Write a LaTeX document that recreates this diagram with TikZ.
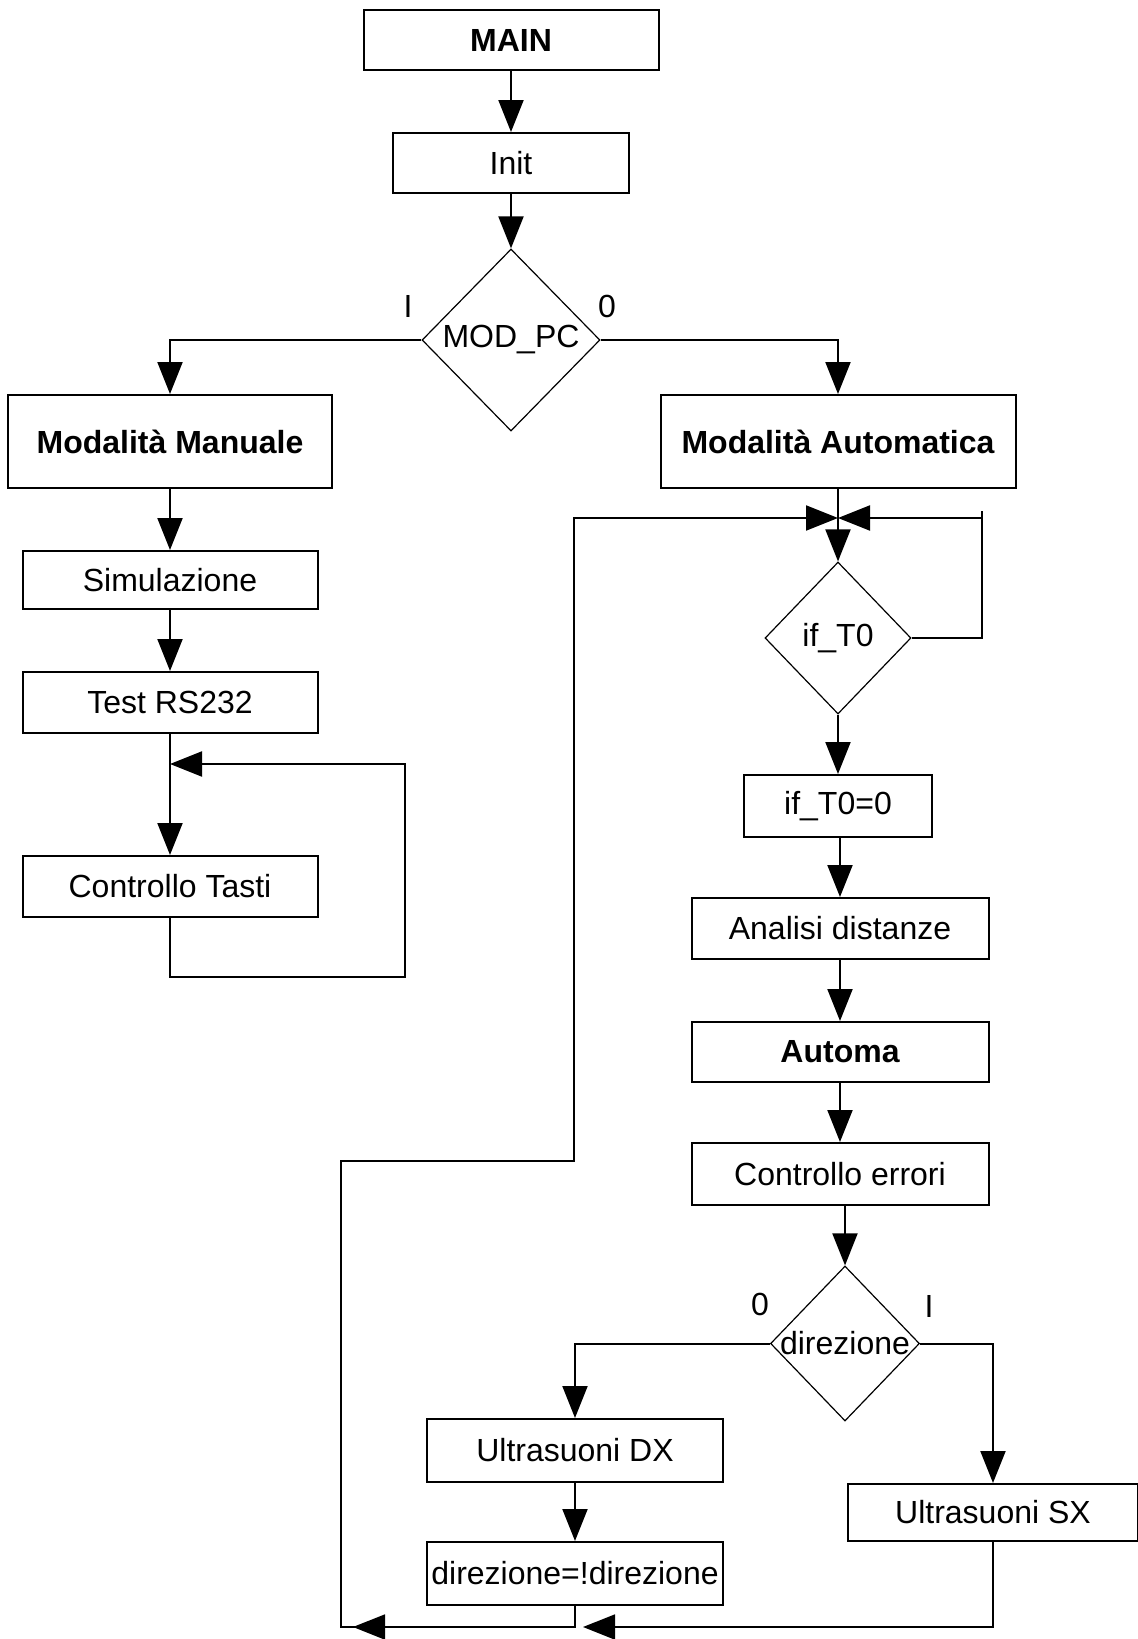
\documentclass[tikz,border=0pt]{standalone}
\usepackage{fontspec}
\setmainfont{Liberation Sans}
\usetikzlibrary{shapes.geometric,arrows.meta}
\newcommand{\myfs}{\fontsize{16}{19}\selectfont}
\begin{document}
\begin{tikzpicture}[x=0.5pt,y=-0.5pt,line width=1pt,
  every node/.style={font=\myfs, inner sep=0pt},
  box/.style 2 args={draw, line width=1pt, minimum width=#1, minimum height=#2},
  dia/.style 2 args={draw, shape=diamond, line width=0.6pt, minimum width=#1, minimum height=#2, inner sep=0pt},
  bold/.style={font=\myfs\bfseries},
  arr/.style={-{Triangle[length=16pt,width=12.5pt]}, line width=1pt}
]
\useasboundingbox (0,0) rectangle (1138,1639);

% nodes
\node[box={147.5pt}{30pt}, bold] (main) at (511,40) {MAIN};
\node[box={118pt}{30pt}] (init) at (511,163) {Init};
\node[dia={89pt}{91pt}] (modpc) at (511,340) {\makebox[0pt]{MOD\_PC}};
\node[box={162pt}{46.5pt}, bold] (man) at (170,441.5) {Modalità Manuale};
\node[box={177.5pt}{46.5pt}, bold] (aut) at (838,441.5) {Modalità Automatica};
\node[box={147.5pt}{29pt}] (sim) at (170,580) {Simulazione};
\node[box={147.5pt}{30.5pt}] (test) at (170,702.5) {Test RS232};
\node[box={147.5pt}{30.5pt}] (ctasti) at (170,886.5) {Controllo Tasti};
\node[dia={73pt}{76pt}] (ift) at (838,638) {\makebox[0pt]{if\_T0}};
\node[box={94pt}{31pt}] (ift0) at (838,806) {if\_T0=0};
\node[box={148.5pt}{30.5pt}] (anal) at (840,928.5) {Analisi distanze};
\node[box={148.5pt}{30pt}, bold] (automa) at (840,1052) {Automa};
\node[box={148.5pt}{31pt}] (cerr) at (840,1174) {Controllo errori};
\node[dia={74.5pt}{77.5pt}] (dir) at (845,1343.5) {\makebox[0pt]{direzione}};
\node[box={148pt}{31.5pt}] (udx) at (575,1450.5) {Ultrasuoni DX};
\node[box={148pt}{31.5pt}] (dnot) at (575,1573.5) {direzione=!direzione};
\node[box={145pt}{28.5pt}] (usx) at (993,1512.5) {Ultrasuoni SX};

% branch labels
\node (l1) at (408,306) {I};
\node (l0) at (607,306) {0};
\node (d0) at (760,1304) {0};
\node (d1) at (929,1306) {I};

% helper coordinates
\coordinate (mbr) at (405,977);
\coordinate (mj) at (170,764);
\coordinate (join) at (838,518);
\coordinate (rtick) at (982,511);
\coordinate (rj) at (982,518);
\coordinate (bl) at (341,1627);
\coordinate (lk) at (574,1161);
\coordinate (bm) at (dnot.south |- bl);

% main flow
\draw[arr] (main.south) -- (init.north);
\draw[arr] (init.south) -- (modpc.north);
\draw[arr] (modpc.west) -| (man.north);
\draw[arr] (modpc.east) -| (aut.north);

% manual branch
\draw[arr] (man.south) -- (sim.north);
\draw[arr] (sim.south) -- (test.north);
\draw[arr] (test.south) -- (ctasti.north);
\draw[arr] (ctasti.south) |- (mbr) |- (mj);

% automatic branch
\draw[arr] (aut.south) -- (ift.north);
\draw (ift.east) -| (rtick);
\draw[arr] (rj) -- (join);
\draw[arr] (ift.south) -- (ift0.north);
\draw[arr] (ift0.south -| anal.north) -- (anal.north);
\draw[arr] (anal.south) -- (automa.north);
\draw[arr] (automa.south) -- (cerr.north);
\draw[arr] (cerr.south -| dir.north) -- (dir.north);
\draw[arr] (dir.west) -| (udx.north);
\draw[arr] (dir.east) -| (usx.north);
\draw[arr] (udx.south) -- (dnot.north);

% return loop
\draw[arr] (dnot.south) |- (bl) |- (lk) |- (join);
\draw[arr] (bm) -- ([xshift=6pt]bl);
\draw[arr] (usx.south) |- ([xshift=4pt]bm);
\end{tikzpicture}
\end{document}
